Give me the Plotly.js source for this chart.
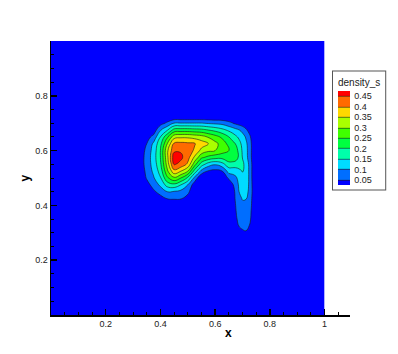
<!DOCTYPE html>
<html>
<head>
<meta charset="utf-8">
<script src="https://cdn.plot.ly/plotly-3.0.1.min.js"></script>
<style>
	html, body { margin: 0; padding: 0; background: #fff; }
	#chart { width: 398px; height: 354px; }
</style>
</head>
<body>
<div id="chart"></div>
<script>
// grid where the blob lives; the rest of the unit square is zero
// (finer columns around the tail)
const gridX = [0.300, 0.325, 0.350, 0.375, 0.400, 0.425, 0.450, 0.475, 0.500, 0.525,
	0.550, 0.575, 0.600, 0.625, 0.650, 0.6625, 0.675, 0.6875, 0.700, 0.7125,
	0.725, 0.7375, 0.750, 0.775];
const gridY = [0.275, 0.300, 0.325, 0.350, 0.375, 0.400, 0.425, 0.450, 0.475, 0.500,
	0.525, 0.550, 0.575, 0.600, 0.625, 0.650, 0.675, 0.700, 0.725, 0.750];

// density_s, one row per gridY value
const density = [
	[0, 0, 0, 0, 0, 0, 0, 0, 0, 0, 0, 0, 0, 0, 0, 0, 0, 0, 0.02, 0.02, 0.005, 0, 0, 0],
	[0, 0, 0, 0, 0, 0, 0, 0, 0, 0, 0, 0, 0, 0, 0, 0, 0, 0.02, 0.04, 0.045, 0.025, 0, 0, 0],
	[0, 0, 0, 0, 0, 0, 0, 0, 0, 0, 0, 0, 0, 0, 0, 0, 0.025, 0.052, 0.06, 0.062, 0.049, 0.02, 0, 0],
	[0, 0, 0, 0, 0, 0, 0, 0, 0, 0, 0, 0, 0, 0, 0, 0.01, 0.04, 0.064, 0.074, 0.075, 0.062, 0.03, 0, 0],
	[0, 0, 0, 0, 0, 0, 0, 0, 0, 0, 0, 0, 0, 0, 0, 0.02, 0.046, 0.07, 0.082, 0.083, 0.068, 0.032, 0, 0],
	[0, 0, 0, 0, 0, 0, 0, 0, 0, 0, 0, 0, 0, 0, 0, 0.025, 0.05, 0.078, 0.09, 0.092, 0.075, 0.035, 0, 0],
	[0, 0, 0, 0, 0.03, 0.052, 0.056, 0.054, 0.025, 0, 0, 0, 0, 0, 0, 0.028, 0.055, 0.088, 0.103, 0.102, 0.08, 0.038, 0, 0],
	[0, 0, 0.01, 0.04, 0.07, 0.1, 0.095, 0.085, 0.065, 0, 0, 0, 0, 0, 0, 0.03, 0.058, 0.1, 0.118, 0.117, 0.09, 0.04, 0, 0],
	[0, 0, 0.03, 0.07, 0.11, 0.17, 0.185, 0.15, 0.1, 0.02, 0, 0, 0, 0, 0, 0.042, 0.07, 0.108, 0.128, 0.128, 0.092, 0.038, 0, 0],
	[0, 0, 0.055, 0.095, 0.145, 0.24, 0.29, 0.25, 0.19, 0.085, 0, 0, 0, 0, 0.06, 0.075, 0.09, 0.118, 0.138, 0.135, 0.092, 0.035, 0, 0],
	[0, 0.01, 0.065, 0.11, 0.17, 0.29, 0.385, 0.35, 0.30, 0.18, 0.085, 0.045, 0.035, 0.048, 0.12, 0.12, 0.125, 0.14, 0.152, 0.143, 0.09, 0.035, 0, 0],
	[0, 0.02, 0.07, 0.12, 0.19, 0.32, 0.455, 0.435, 0.39, 0.27, 0.175, 0.125, 0.105, 0.13, 0.18, 0.18, 0.175, 0.17, 0.16, 0.135, 0.09, 0.035, 0, 0],
	[0, 0.02, 0.07, 0.125, 0.2, 0.335, 0.48, 0.46, 0.42, 0.34, 0.26, 0.235, 0.22, 0.215, 0.235, 0.235, 0.225, 0.19, 0.148, 0.118, 0.08, 0.03, 0, 0],
	[0, 0.015, 0.065, 0.12, 0.2, 0.34, 0.44, 0.445, 0.435, 0.39, 0.335, 0.31, 0.30, 0.275, 0.252, 0.24, 0.222, 0.185, 0.143, 0.115, 0.08, 0.03, 0, 0],
	[0, 0, 0.05, 0.11, 0.185, 0.30, 0.41, 0.415, 0.41, 0.405, 0.375, 0.35, 0.315, 0.28, 0.235, 0.218, 0.198, 0.168, 0.135, 0.11, 0.078, 0.03, 0, 0],
	[0, 0, 0.03, 0.065, 0.15, 0.24, 0.33, 0.34, 0.34, 0.33, 0.32, 0.295, 0.27, 0.24, 0.2, 0.18, 0.16, 0.14, 0.12, 0.095, 0.065, 0.02, 0, 0],
	[0, 0, 0.01, 0.02, 0.095, 0.145, 0.22, 0.225, 0.225, 0.22, 0.215, 0.2, 0.185, 0.165, 0.14, 0.128, 0.115, 0.102, 0.085, 0.06, 0.03, 0, 0, 0],
	[0, 0, 0, 0, 0.03, 0.06, 0.102, 0.102, 0.102, 0.102, 0.102, 0.095, 0.09, 0.085, 0.065, 0.053, 0.04, 0.03, 0.02, 0.01, 0, 0, 0, 0],
	[0, 0, 0, 0, 0, 0, 0, 0, 0, 0, 0, 0, 0, 0, 0, 0, 0, 0, 0, 0, 0, 0, 0, 0],
	[0, 0, 0, 0, 0, 0, 0, 0, 0, 0, 0, 0, 0, 0, 0, 0, 0, 0, 0, 0, 0, 0, 0, 0]
];

const levels = [0.05, 0.1, 0.15, 0.2, 0.25, 0.3, 0.35, 0.4, 0.45];
const levelLabels = ["0.05", "0.1", "0.15", "0.2", "0.25", "0.3", "0.35", "0.4", "0.45"];
// one colour per band, lowest band first
const bandColors = ["#0000ff", "#006eff", "#00dcff", "#00ffaa", "#00ff40",
	"#40ff00", "#aaff00", "#ffd800", "#ff6a00", "#ff0000"];

const xTicks = [0.2, 0.4, 0.6, 0.8, 1];
const xTickText = ["0.2", "0.4", "0.6", "0.8", "1"];
const yTicks = [0.2, 0.4, 0.6, 0.8];
const yTickText = ["0.2", "0.4", "0.6", "0.8"];

// pad the grid out to the unit square with zeros
let xs = [0].concat(gridX, [1]);
let ys = [0].concat(gridY, [1]);
let blank = Array(xs.length).fill(0);
let zs = [blank];
density.forEach(row => zs.push([0].concat(row, [0])));
zs.push(blank);

let colorscale = bandColors.map((c, i) => [i / (bandColors.length - 1), c]);

let font = "Liberation Sans, Arial, sans-serif";

let trace = {
	type: "contour",
	x: xs,
	y: ys,
	z: zs,
	autocontour: false,
	contours: {
		start: levels[0],
		end: levels[levels.length - 1],
		size: 0.05,
		coloring: "fill",
		showlines: true
	},
	line: { color: "#1a1a1a", width: 0.6, smoothing: 1.3 },
	colorscale: colorscale,
	hoverinfo: "skip",
	colorbar: {
		title: { text: "density_s", side: "top", font: { family: font, size: 10, color: "#222" } },
		thickness: 12,
		thicknessmode: "pixels",
		len: 118,
		lenmode: "pixels",
		x: 0.943,
		xanchor: "left",
		y: 0.675,
		yanchor: "middle",
		outlinewidth: 0,
		bordercolor: "#555",
		borderwidth: 1,
		bgcolor: "#fff",
		xpad: 5,
		ypad: 4,
		tickvals: levels,
		ticktext: levelLabels,
		ticks: "outside",
		ticklen: 3,
		tickcolor: "rgba(0,0,0,0)",
		tickfont: { family: font, size: 9, color: "#222" }
	}
};

let axisCommon = {
	showgrid: false,
	zeroline: false,
	showline: true,
	linecolor: "#000",
	linewidth: 1.5,
	ticks: "inside",
	ticklen: 6,
	tickwidth: 1.5,
	tickcolor: "#000",
	tickfont: { family: font, size: 9, color: "#222" },
	minor: { ticks: "inside", ticklen: 3, tickwidth: 1, tickcolor: "#000", tick0: 0, dtick: 0.05 },
	fixedrange: true
};

let layout = {
	width: 398,
	height: 354,
	margin: { l: 51, r: 48, t: 41, b: 39 },
	paper_bgcolor: "#fff",
	plot_bgcolor: "#fff",
	showlegend: false,
	xaxis: Object.assign({}, axisCommon, {
		range: [0, 1.093],
		tickmode: "array",
		tickvals: xTicks,
		ticktext: xTickText
	}),
	yaxis: Object.assign({}, axisCommon, {
		range: [0, 1],
		tickmode: "array",
		tickvals: yTicks,
		ticktext: yTickText
	}),
	annotations: [
		{ text: "<b>x</b>", xref: "paper", yref: "paper", x: 0.592, y: -0.064,
			xanchor: "center", yanchor: "middle",
			showarrow: false, font: { family: font, size: 12, color: "#000" } },
		{ text: "<b>y</b>", xref: "paper", yref: "paper", x: -0.087, y: 0.502, textangle: -90,
			xanchor: "center", yanchor: "middle",
			showarrow: false, font: { family: font, size: 12, color: "#000" } }
	]
};

Plotly.newPlot("chart", [trace], layout, { staticPlot: true });
</script>
</body>
</html>
